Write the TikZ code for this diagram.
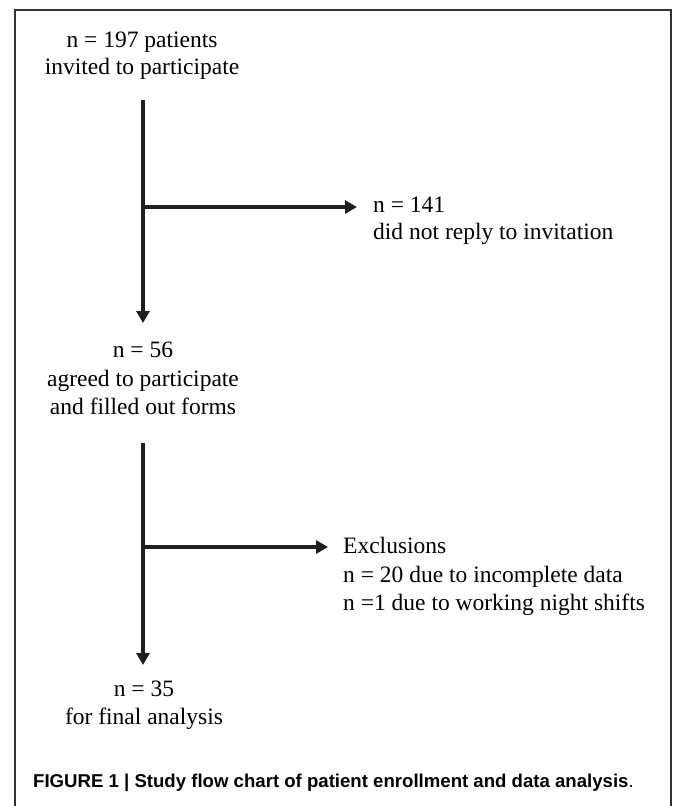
\documentclass[tikz,border=0pt]{standalone}
\usepackage{fontspec}
\setmainfont{Liberation Serif}
\newfontfamily\capfont{Liberation Sans}
\usetikzlibrary{arrows.meta,calc}
\begin{document}
\begin{tikzpicture}[x=1pt,y=-1pt,
  txt/.style={font=\fontsize{23.5}{27.5}\selectfont, inner sep=0pt},
  loose/.style={font=\fontsize{23.5}{28.5}\selectfont},
  tight/.style={font=\fontsize{23.5}{26.5}\selectfont},
  flow/.style={line width=4pt, draw=black!88},
  arr/.style={flow, -{Triangle[width=13pt,length=12pt]}},
  frame/.style={line width=1.3pt, draw=black!80}]
\useasboundingbox (0,0) rectangle (673,806);
\draw[frame] (15,806) -- (15,10) -- (671,10) -- (671,806);

\node[txt, tight, align=center, anchor=north] (a) at (142,32) {n = 197 patients\\invited to participate};
\node[txt, tight, align=left, anchor=north west] (b) at (373,197) {n = 141\\did not reply to invitation};
\node[txt, loose, align=center, anchor=north] (c) at (143,342) {n = 56\\agreed to participate\\and filled out forms};
\node[txt, loose, align=left, anchor=north west] (d) at (343,537) {Exclusions\\n = 20 due to incomplete data\\n =1 due to working night shifts};
\node[txt, align=center, anchor=north] (e) at (144,681) {n = 35\\for final analysis};
\node[font=\capfont\bfseries\fontsize{18.6}{22}\selectfont, anchor=base west, inner sep=0pt] (cap) at (33,787) {FIGURE 1 | Study flow chart of patient enrollment and data analysis{\mdseries.}};

\coordinate (j1) at (143,207);
\coordinate (j2) at (143,547);

\draw[flow] ($(j1 |- a.south)+(0,21)$) -- (j1);
\draw[arr] (j1) -- ($(j1 |- c.north)+(0,-19)$);
\draw[arr] (j1) -- ($(j1 -| b.west)+(-16,0)$);

\draw[flow] ($(j2 |- c.south)+(0,28)$) -- (j2);
\draw[arr] (j2) -- ($(j2 |- e.north)+(0,-16)$);
\draw[arr] (j2) -- ($(j2 -| d.west)+(-15,0)$);
\end{tikzpicture}
\end{document}
